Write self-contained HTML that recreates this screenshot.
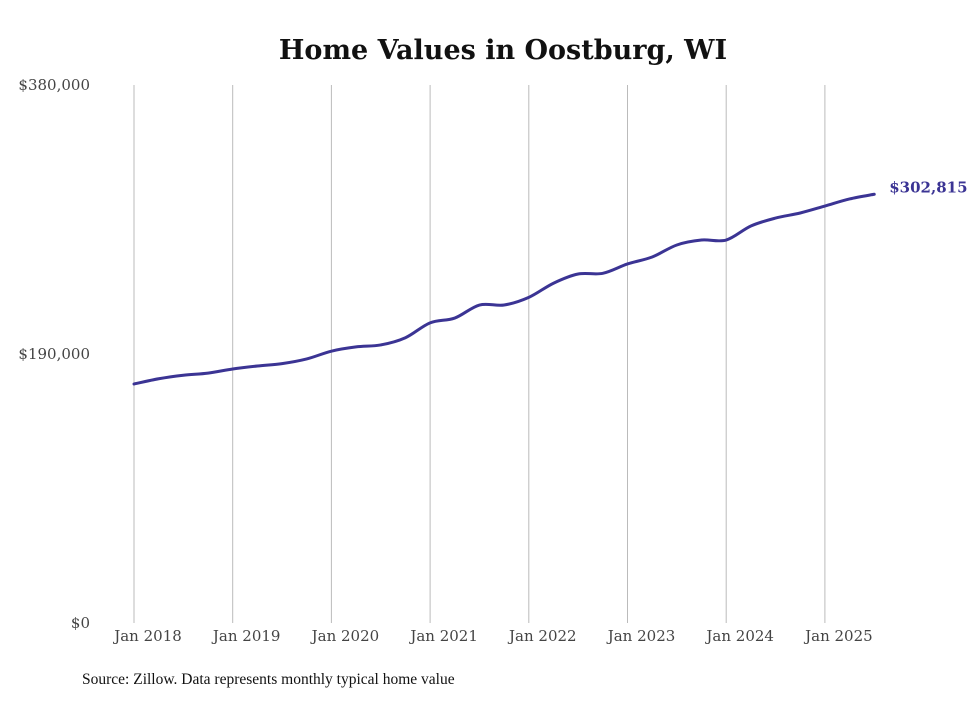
<!DOCTYPE html>
<html><head><meta charset="utf-8"><style>
body{margin:0;background:#fff;}
svg text{font-family:"DejaVu Serif","Liberation Serif",serif;}
</style></head><body>
<svg id="chart" width="980" height="699" viewBox="0 0 980 699" xmlns="http://www.w3.org/2000/svg">
<text x="503" y="59" text-anchor="middle" font-size="27" font-weight="bold" fill="#111">Home Values in Oostburg, WI</text>
<g id="grid"></g>
<g id="yticks"></g>
<g id="xticks"></g>
<path id="line" fill="none" stroke="#3b3494" stroke-width="3" stroke-linejoin="round" stroke-linecap="round"></path>
<text id="endlabel" font-size="15" font-weight="bold" fill="#3b3494"></text>
<text x="82" y="684" font-size="15.5" fill="#111" style="font-family:'Liberation Serif',serif">Source: Zillow. Data represents monthly typical home value</text>
</svg>
<script>
const months=[0,3,6,9,12,15,18,21,24,27,30,33,36,39,42,45,48,51,54,57,60,63,66,69,72,75,78,81,84,87,90];
const values=[168800,172500,175000,176500,179400,181500,183200,186500,192000,195000,196400,201500,212000,215400,224600,224600,230000,240000,246500,247000,253600,258500,267000,270500,270500,280400,286000,289600,294500,299500,302815];
const yTickValues=[0,190000,380000];
const yTickLabels=["$0","$190,000","$380,000"];
const xTickMonths=[0,12,24,36,48,60,72,84];
const xTickLabels=["Jan 2018","Jan 2019","Jan 2020","Jan 2021","Jan 2022","Jan 2023","Jan 2024","Jan 2025"];
const endLabel="$302,815";
const NS="http://www.w3.org/2000/svg";
const x=m=>134+m*(98.7/12);
const y=v=>623-v/380000*538;
const grid=document.getElementById('grid'),xt=document.getElementById('xticks'),yt=document.getElementById('yticks');
xTickMonths.forEach((m,i)=>{
 const l=document.createElementNS(NS,'line');
 
 
 l.setAttribute('x1',x(m));l.setAttribute('x2',x(m));l.setAttribute('y1',85);l.setAttribute('y2',623);
 l.setAttribute('stroke','#bbb');l.setAttribute('stroke-width','1');
 grid.appendChild(l);
 const t=document.createElementNS(NS,'text');
 
 
 t.setAttribute('x',x(m)+14);t.setAttribute('y',641);t.setAttribute('text-anchor','middle');
 t.setAttribute('font-size','15');t.setAttribute('fill','#444');
 t.textContent=xTickLabels[i];xt.appendChild(t);
});
yTickValues.forEach((v,i)=>{
 const t=document.createElementNS(NS,'text');
 
 
 t.setAttribute('x',90);t.setAttribute('y',y(v)+5);t.setAttribute('text-anchor','end');
 t.setAttribute('font-size','15');t.setAttribute('fill','#444');
 t.textContent=yTickLabels[i];yt.appendChild(t);
});
const pts=months.map((m,i)=>[x(m),y(values[i])]);
let d='M'+pts[0][0]+','+pts[0][1];
for(let i=0;i<pts.length-1;i++){
 const p0=pts[i-1]||pts[i],p1=pts[i],p2=pts[i+1],p3=pts[i+2]||p2;
 const c1=[p1[0]+(p2[0]-p0[0])/6,p1[1]+(p2[1]-p0[1])/6];
 const c2=[p2[0]-(p3[0]-p1[0])/6,p2[1]-(p3[1]-p1[1])/6];
 d+=` C${c1[0]},${c1[1]} ${c2[0]},${c2[1]} ${p2[0]},${p2[1]}`;
}
document.getElementById('line').setAttribute('d',d);
const last=pts[pts.length-1],el=document.getElementById('endlabel');
el.setAttribute('x',last[0]+15);el.setAttribute('y',last[1]-2);el.textContent=endLabel;
</script>
</body></html>
